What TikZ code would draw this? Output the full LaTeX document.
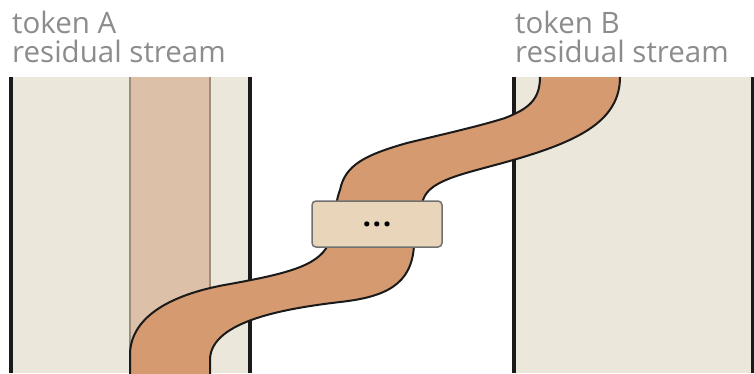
\documentclass[tikz,border=0pt]{standalone}
\usepackage{fontspec}
\setmainfont{Open Sans}
\definecolor{streambg}{HTML}{EBE7DA}
\definecolor{stripfill}{HTML}{DCC0A8}
\definecolor{stripline}{HTML}{9C8C7C}
\definecolor{bandfill}{HTML}{D59A70}
\definecolor{boxfill}{HTML}{E9D5BA}
\definecolor{boxline}{HTML}{707070}
\definecolor{labelgray}{HTML}{8C8C8C}
\definecolor{edgeblack}{HTML}{1A1A1A}
\tikzset{
  streamedge/.style={draw=edgeblack, line width=3.5pt},
  bandedge/.style={draw=edgeblack, line width=2pt},
  labeltext/.style={inner sep=0pt, anchor=base west, text=labelgray, font=\fontsize{29.5}{29.5}\selectfont},
  headbox/.style={draw=boxline, fill=boxfill, line width=1.5pt, rounded corners=4pt, minimum width=130pt, minimum height=46pt, inner sep=0pt}
}
\begin{document}
\begin{tikzpicture}[x=1pt,y=-1pt]
\useasboundingbox (0,0) rectangle (754,373);
% streams
\fill[streambg] (11,77) rectangle (250,373);
\fill[streambg] (514,77) rectangle (752,373);
\fill[stripfill] (130,77) rectangle (210,373);
\draw[stripline, line width=1.5pt] (130,77) -- (130,373);
\draw[stripline, line width=1.5pt] (210,77) -- (210,373);
\draw[streamedge] (11,77) -- (11,373);
\draw[streamedge] (250,77) -- (250,373);
\draw[streamedge] (514,77) -- (514,373);
\draw[streamedge] (752.5,77) -- (752.5,373);
% band fill
\fill[bandfill] (130,374) -- (130,355)
  .. controls (130,320) and (165,295) .. (230,284)
  .. controls (290,273) and (322,265) .. (330,240)
  .. controls (336,225) and (334,205) .. (340,190)
  .. controls (345,165) and (365,155) .. (407,143)
  .. controls (440,135) and (480,126) .. (505,118)
  .. controls (528,109) and (540,100) .. (540,77)
  -- (620,77)
  .. controls (620,120) and (580,140) .. (520,158)
  .. controls (470,173) and (430,178) .. (423,200)
  -- (414,245)
  .. controls (412,285) and (385,297) .. (340,302)
  .. controls (290,308) and (210,320) .. (210,360)
  -- (210,374) -- cycle;
% band edges
\draw[bandedge] (130,374) -- (130,355)
  .. controls (130,320) and (165,295) .. (230,284)
  .. controls (290,273) and (322,265) .. (330,240)
  .. controls (336,225) and (334,205) .. (340,190)
  .. controls (345,165) and (365,155) .. (407,143)
  .. controls (440,135) and (480,126) .. (505,118)
  .. controls (528,109) and (540,100) .. (540,77);
\draw[bandedge] (620,77)
  .. controls (620,120) and (580,140) .. (520,158)
  .. controls (470,173) and (430,178) .. (423,200)
  -- (414,245)
  .. controls (412,285) and (385,297) .. (340,302)
  .. controls (290,308) and (210,320) .. (210,360)
  -- (210,374);
% box
\node[headbox] (head) at (377,224) {\fontsize{30}{30}\selectfont\bfseries .\hspace{1.5pt}.\hspace{1.5pt}.};
% labels
\node[labeltext] (tokA) at (12,33) {token A};
\node[labeltext] (resA) at (12,62) {residual stream};
\node[labeltext] (tokB) at (515,33) {token B};
\node[labeltext] (resB) at (515,62) {residual stream};
\end{tikzpicture}
\end{document}
